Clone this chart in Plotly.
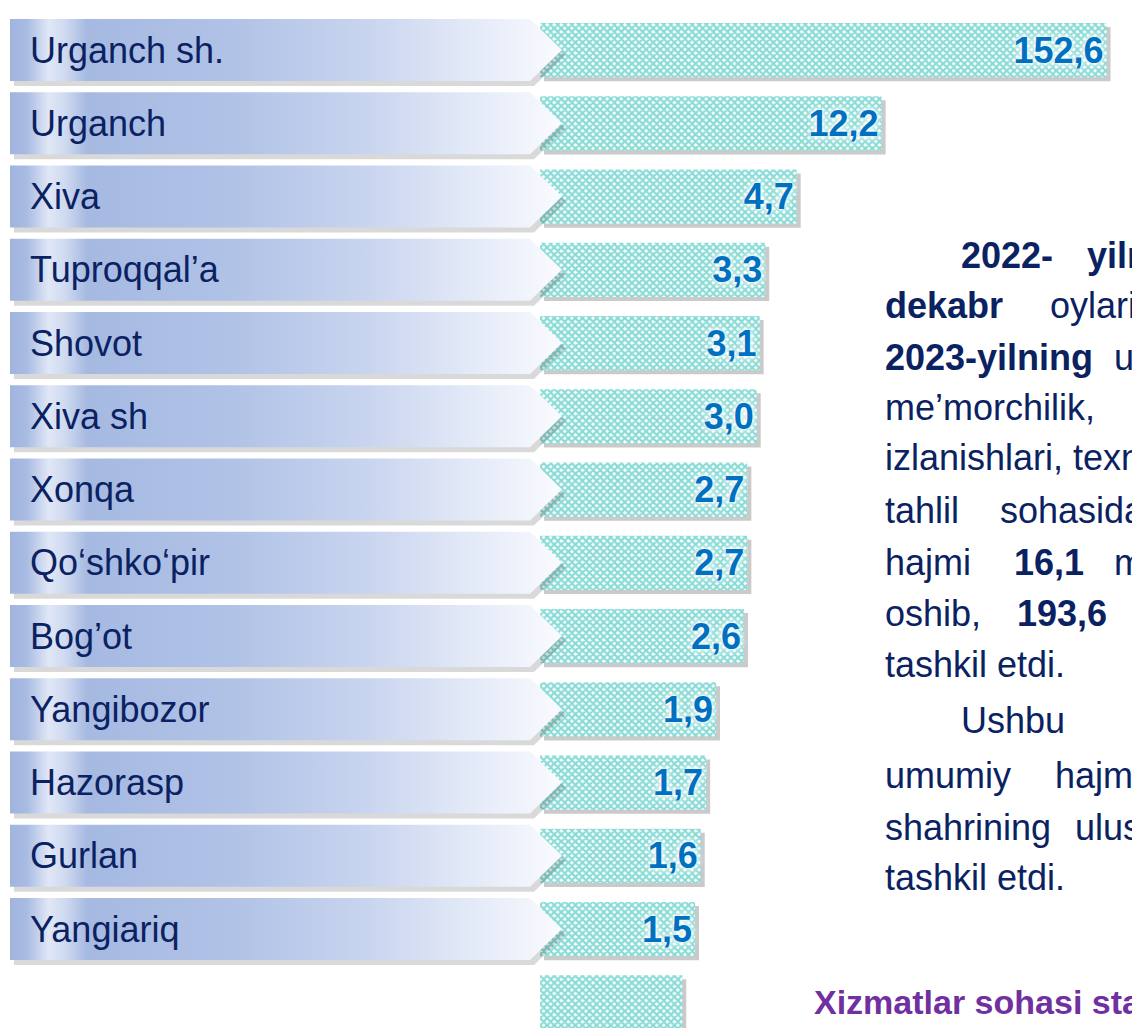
import plotly.graph_objects as go

W, H = 1132, 1028

districts = ["Urganch sh.", "Urganch", "Xiva", "Tuproqqal’a", "Shovot", "Xiva sh",
             "Xonqa", "Qo‘shko‘pir", "Bog’ot", "Yangibozor", "Hazorasp", "Gurlan",
             "Yangiariq", ""]
values = [152.6, 12.2, 4.7, 3.3, 3.1, 3.0, 2.7, 2.7, 2.6, 1.9, 1.7, 1.6, 1.5, 1.3]
value_labels = ["152,6", "12,2", "4,7", "3,3", "3,1", "3,0", "2,7", "2,7", "2,6",
                "1,9", "1,7", "1,6", "1,5", ""]

rows = list(range(len(districts)))

FONT = "Arial, Liberation Sans, sans-serif"
NAVY = "#0b2262"

# bar axis: log scale, bars start under the arrow tips
BAR_LEFT = 540
PX_DEC = 205
LOG_LO = -0.58
LOG_HI = LOG_LO + (W - BAR_LEFT) / PX_DEC
SH = 4  # shadow shift, px

fig = go.Figure()

# soft shadows behind the bars
fig.add_trace(go.Bar(
    x=values, y=[r + SH / 73.25 for r in rows], orientation="h", width=0.74,
    marker=dict(color="rgba(90,90,90,0.32)", line_width=0),
    xaxis="x", yaxis="y", hoverinfo="skip"))

# patterned bars
fig.add_trace(go.Bar(
    x=values, y=rows, orientation="h", width=0.74,
    marker=dict(color="white", line_width=0,
                pattern=dict(shape="x", fgcolor="#14b8ae", bgcolor="white",
                             size=5, solidity=0.7)),
    text=[f"<b>{t}</b>" for t in value_labels],
    textposition="inside", insidetextanchor="end",
    textfont=dict(family=FONT, size=36, color="#0070c0",
                  shadow="0px 0px 3px white, 0px 0px 6px white, 0px 0px 8px white"),
    xaxis="x2", yaxis="y", hoverinfo="skip"))

# arrow banners with gradient
banner_scale = [[0, "#a0b4de"], [0.03, "#a8bbe2"], [0.07, "#e0e7f6"], [0.1, "#cfdaf0"],
                [0.14, "#a6b9e1"], [0.4, "#b0c2e6"], [0.65, "#c9d5ef"],
                [0.85, "#e5ebf8"], [1, "#fafbfe"]]
half = 0.423
for r, name in zip(rows, districts):
    if not name:
        continue
    bx = [10, 530, 562, 530, 10, 10]
    by = [r - half, r - half, r, r + half, r + half, r - half]
    fig.add_trace(go.Scatter(
        x=[v + 4 for v in bx], y=[v + 5 / 73.25 for v in by], mode="lines",
        line_width=0, fill="toself", fillcolor="rgba(0,0,0,0.15)",
        xaxis="x3", yaxis="y", hoverinfo="skip"))
    fig.add_trace(go.Scatter(
        x=bx, y=by, mode="lines", line_width=0, fill="toself",
        fillgradient=dict(type="horizontal", colorscale=banner_scale),
        xaxis="x3", yaxis="y", hoverinfo="skip"))
    fig.add_annotation(x=28 / W, xref="paper", y=r, yref="y", text=name,
                       showarrow=False, xanchor="left", yanchor="middle",
                       font=dict(family=FONT, size=36, color=NAVY))

# justified paragraph on the right (cut by the page edge, as in the slide)
body = [
    (959, 255, "<b>2022-</b>"), (1085, 255, "<b>yiln</b>"),
    (883, 305, "<b>dekabr</b>"), (1048, 305, "oylari"),
    (883, 357, "<b>2023-yilning</b>"), (1112, 357, "u"),
    (883, 408, "me’morchilik,"),
    (883, 458, "izlanishlari, texn"),
    (883, 510, "tahlil"), (998, 510, "sohasida"),
    (883, 562, "hajmi"), (1012, 562, "<b>16,1</b>"), (1112, 562, "m"),
    (883, 613, "oshib,"), (1015, 613, "<b>193,6</b>"),
    (883, 664, "tashkil etdi."),
    (959, 720, "Ushbu"),
    (883, 775, "umumiy"), (1053, 775, "hajm"),
    (883, 827, "shahrining"), (1073, 827, "ulus"),
    (883, 877, "tashkil etdi."),
]
for bx_, by_, txt in body:
    fig.add_annotation(x=bx_ / W, y=1 - by_ / H, xref="paper", yref="paper",
                       text=txt, showarrow=False, xanchor="left", yanchor="middle",
                       font=dict(family=FONT, size=36, color=NAVY))

fig.add_annotation(x=812 / W, y=1 - 1002 / H, xref="paper", yref="paper",
                   text="<b>Xizmatlar sohasi sta</b>", showarrow=False,
                   xanchor="left", yanchor="middle",
                   font=dict(family=FONT, size=34, color="#7030a0"))

fig.update_layout(
    width=W, height=H, margin=dict(l=0, r=0, t=0, b=0),
    paper_bgcolor="white", plot_bgcolor="rgba(0,0,0,0)",
    showlegend=False, barmode="overlay",
    xaxis=dict(type="log", range=[LOG_LO, LOG_LO + (W - BAR_LEFT - SH) / PX_DEC],
               domain=[(BAR_LEFT + SH) / W, 1], anchor="y", visible=False),
    xaxis2=dict(type="log", range=[LOG_LO, LOG_HI], domain=[BAR_LEFT / W, 1],
                anchor="y", visible=False),
    xaxis3=dict(range=[0, W], domain=[0, 1], anchor="y", visible=False),
    yaxis=dict(range=[13.35, -0.683], domain=[0, 1], visible=False),
)

fig.write_html("out.html", config={"displayModeBar": False},
               post_script="document.body.style.margin='0px';")
